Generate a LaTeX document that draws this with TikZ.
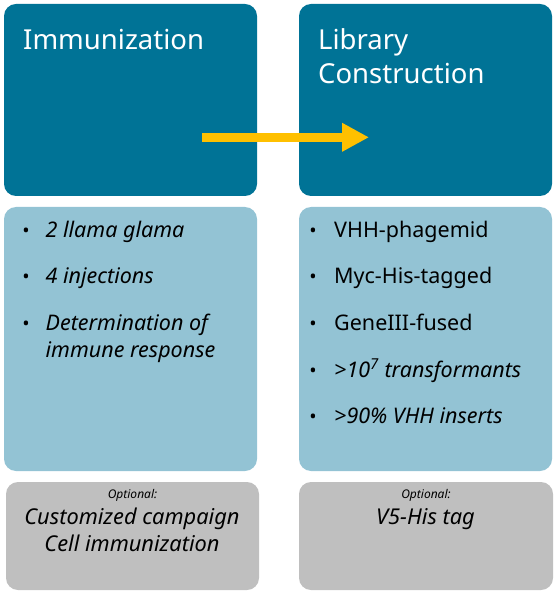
\documentclass[tikz,border=0pt]{standalone}
\usepackage{fontspec}
\setmainfont{Noto Sans}
\usetikzlibrary{arrows.meta}
\definecolor{darkteal}{HTML}{007396}
\definecolor{lightblue}{HTML}{93C3D4}
\definecolor{greybox}{HTML}{BFBFBF}
\definecolor{arrowgold}{HTML}{FFC000}
\tikzset{
  box/.style={rounded corners=12pt},
  head/.style={anchor=base west, inner sep=0pt, text=white, font=\fontsize{27.5}{34}\selectfont, align=left},
  item/.style={anchor=base west, inner sep=0pt, text=black, font=\fontsize{21.5}{27}\selectfont, align=left},
  bul/.style={anchor=base, inner sep=0pt, text=black, font=\fontsize{19.5}{27}\selectfont},
  opt/.style={anchor=base, inner sep=0pt, text=black, font=\fontsize{12}{14}\selectfont\itshape},
  optitem/.style={anchor=base, inner sep=0pt, text=black, font=\fontsize{21.8}{27}\selectfont\itshape, align=center},
}
\begin{document}
\begin{tikzpicture}[x=1pt,y=-1pt]
\useasboundingbox (0,0) rectangle (557,593);
% boxes
\fill[darkteal,box] (4,4) rectangle (257,196);
\fill[darkteal,box] (299,4) rectangle (552,196);
\fill[lightblue,box] (4,207) rectangle (257,471);
\fill[lightblue,box] (299,207) rectangle (552,471);
\fill[greybox,box] (6,482) rectangle (259,590);
\fill[greybox,box] (299,482) rectangle (553,590);
% headings
\node[head] (h1) at (23,50) {Immunization};
\node[head] (h2) at (318,50) {Library};
\node[head] (h3) at (318,84) {Construction};
% arrow
\coordinate (as) at (202,137.3);
\coordinate (ae) at (369,137.3);
\draw[arrowgold, line width=9pt, -{Triangle[length=27pt,width=27pt]}] (as) -- (ae);
% left bullets
\node[bul] (lb1) at (26,237.7) {•};
\node[item] (li1) at (45.5,237.7) {\itshape 2 llama glama};
\node[bul] (lb2) at (26,283) {•};
\node[item] (li2) at (45.5,283) {\itshape 4 injections};
\node[bul] (lb3) at (26,330) {•};
\node[item] (li3) at (45.5,330) {\itshape Determination of};
\node[item] (li4) at (45.5,357) {\itshape immune response};
% right bullets
\node[bul] (rb1) at (313,237.7) {•};
\node[item] (ri1) at (334,237.7) {VHH-phagemid};
\node[bul] (rb2) at (313,283) {•};
\node[item] (ri2) at (334,283) {Myc-His-tagged};
\node[bul] (rb3) at (313,330) {•};
\node[item] (ri3) at (334,330) {GeneIII-fused};
\node[bul] (rb4) at (313,377) {•};
\node[item] (ri4) at (334,377) {\itshape >10\textsuperscript{7} transformants};
\node[bul] (rb5) at (313,423) {•};
\node[item] (ri5) at (334,423) {\itshape >90\% VHH inserts};
% optional
\node[opt] (o1) at (132.5,498.7) {Optional:};
\node[optitem] (o2) at (132,524.7) {Customized campaign};
\node[optitem] (o3) at (132,551.3) {Cell immunization};
\node[opt] (o4) at (426,498.7) {Optional:};
\node[optitem] (o5) at (425.5,524.7) {V5-His tag};
\end{tikzpicture}
\end{document}
